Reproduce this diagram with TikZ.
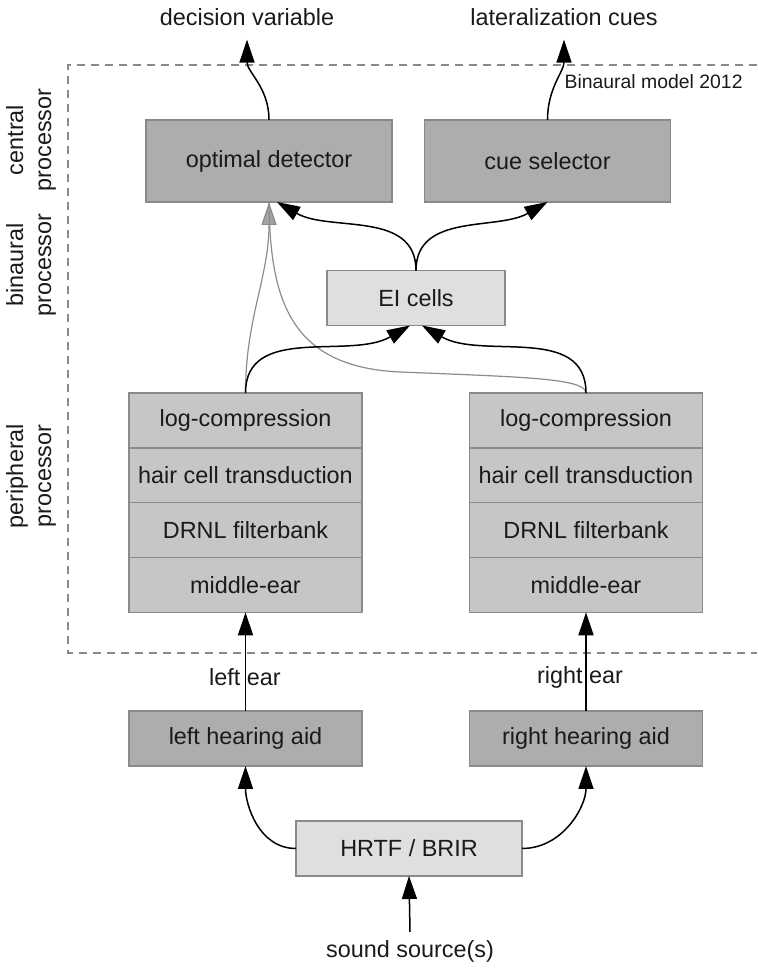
\documentclass[tikz,border=0pt]{standalone}
\usepackage{fontspec}
\setmainfont{Liberation Sans}
\usetikzlibrary{positioning}
\usetikzlibrary{arrows.meta}
\definecolor{boxdark}{HTML}{ADADAD}
\definecolor{boxmid}{HTML}{C6C6C6}
\definecolor{boxlight}{HTML}{DFDFDF}
\definecolor{boxborder}{HTML}{8A8A8A}
\definecolor{linegray}{HTML}{8C8C8C}
\definecolor{textblack}{HTML}{1A1A1A}

\begin{document}
\begin{tikzpicture}[x=0.5pt, y=0.5pt, ->, >={Triangle[length=11.5pt, width=7.5pt]}, line width=0.75pt, font=\fontsize{11.7}{14}\selectfont, text=textblack]
    \tikzstyle{darkblock}=[draw=boxborder, fill=boxdark, rectangle, line width=0.7pt, minimum width=123pt, minimum height=41pt, inner sep=2pt, outer sep=0pt]
    \tikzstyle{stackblock}=[draw=boxborder, fill=boxmid, rectangle, line width=0.7pt, minimum width=116.5pt, minimum height=27.4pt, inner sep=2pt, outer sep=0pt]
    \tikzstyle{aidblock}=[darkblock, minimum width=116.5pt, minimum height=27.5pt]
    \tikzstyle{lightblock}=[draw=boxborder, fill=boxlight, rectangle, line width=0.7pt, minimum height=27.5pt, inner sep=2pt, outer sep=0pt]
    \tikzstyle{sidelabel}=[rotate=90, align=center, inner sep=0pt]

    \useasboundingbox (0,0) rectangle (757,968);

    % frame of the model
    \draw[-, dashed, dash pattern=on 4pt off 3pt, draw=boxborder, line width=0.6pt] (757,903) -| (68,315) -- (757,315);
    \node[anchor=east, font=\fontsize{9.7}{11}\selectfont] (model) at (750,886) {Binaural model 2012};

    % stages
    \node[sidelabel] (lblcentral) at (31,828) {central\\processor};
    \node[sidelabel] (lblbinaural) at (31,703) {binaural\\processor};
    \node[sidelabel] (lblperiph) at (31,492) {peripheral\\processor};

    % central processor
    \node[darkblock] (od) at (269,807) {optimal detector};
    \node[darkblock] (cs) at (547.5,807) {cue selector};
    \node[inner sep=0pt, outer sep=7pt] (dv) at (247,951) {decision variable};
    \node[inner sep=0pt, outer sep=7pt] (lc) at (564,951) {lateralization cues};

    % binaural processor
    \node[lightblock, minimum width=89pt] (ei) at (416,670) {EI cells};

    % peripheral processor, left and right
    \node[stackblock] (stL1) at (245.5,547.5) {log-compression};
    \node[stackblock, below=0pt of stL1] (stL2) {hair cell transduction};
    \node[stackblock, below=0pt of stL2] (stL3) {DRNL filterbank};
    \node[stackblock, below=0pt of stL3] (stL4) {middle-ear};

    \node[stackblock] (stR1) at (586,547.5) {log-compression};
    \node[stackblock, below=0pt of stR1] (stR2) {hair cell transduction};
    \node[stackblock, below=0pt of stR2] (stR3) {DRNL filterbank};
    \node[stackblock, below=0pt of stR3] (stR4) {middle-ear};

    % outside the model
    \node[aidblock] (aidL) at (245.5,229.5) {left hearing aid};
    \node[aidblock] (aidR) at (586,229.5) {right hearing aid};
    \node[lightblock, minimum width=113pt] (hrtf) at (409,119.5) {HRTF / BRIR};
    \node[anchor=north, inner sep=0pt, outer sep=4.5pt] (ss) at (410,36) {sound source(s)};

    \node (earL) at (245,291) {left ear};
    \node (earR) at (580,291) {right ear};

    % connections
    \draw[draw=linegray, -{Triangle[length=11.5pt, width=7.5pt, fill=linegray!80]}, line width=0.6pt] (stL1.north) to[out=90, in=-90] (od.south);
    \draw[draw=linegray, line width=0.6pt, -] (stR1.north) .. controls (586,590) and (520,591) .. (400,596) .. controls (290,601) and (270,668) .. (od.south);

    \draw (od.north) to[out=90, in=-90] (dv.south);
    \draw (cs.north) to[out=90, in=-90] (lc.south);
    \draw (ei.north) to[out=90, in=-30] ([xshift=4pt]od.south);
    \draw (ei.north) to[out=90, in=-150] (cs.south);
    \draw (stL1.north) to[out=90, in=-150] ([xshift=-3pt]ei.south);
    \draw (stR1.north) to[out=90, in=-30] ([xshift=3pt]ei.south);

    \draw (aidL.north) -- (stL4.south);
    \draw (aidR.north) -- (stR4.south);
    \draw (hrtf.west) to[out=180, in=-90] (aidL.south);
    \draw (hrtf.east) to[out=0, in=-90] (aidR.south);
    \draw (ss.north) -- (hrtf.south);

\end{tikzpicture}
\end{document}
